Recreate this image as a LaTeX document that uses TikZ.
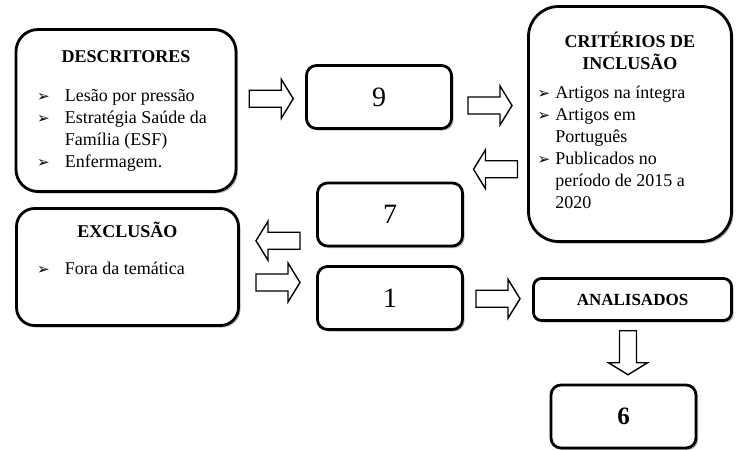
\documentclass[tikz,border=0pt]{standalone}
\usepackage{fontspec}
\setmainfont{Liberation Serif}
\newfontfamily\symfont{DejaVu Sans}
\usepackage{array}
\usetikzlibrary{shadows,calc}
\newcommand{\bul}{{\symfont\fontsize{15}{15}\selectfont ➢}}
\begin{document}
\begin{tikzpicture}[x=1pt,y=-1pt,font=\fontsize{18}{22}\selectfont,
 box/.style={draw,line width=2.8pt,fill=white,inner sep=0pt,
  drop shadow={shadow xshift=2pt,shadow yshift=-2pt,fill=black!45,opacity=.6}},
 numbox/.style={box,rounded corners=10pt,minimum width=145pt,minimum height=63pt,font=\fontsize{28}{28}\selectfont},
 pics/barrow/.style={code={
  \draw[line width=1.4pt,fill=white,line join=miter] (-22,-8.5) -- (10,-8.5) -- (10,-19.5) -- (22,0)
   -- (10,19.5) -- (10,8.5) -- (-22,8.5) -- cycle;}}]
\useasboundingbox (0,0) rectangle (737,450);
\node[box,rounded corners=22pt,minimum width=220pt,minimum height=162pt] (desc) at (126,110.5) {%
\begin{tabular}{@{}l@{\hspace{15pt}}>{\raggedright\arraybackslash}p{150pt}@{}}
\multicolumn{2}{c}{\textbf{DESCRITORES}}\\[17pt]
\bul & Lesão por pressão\\
\bul & Estratégia Saúde da\newline Família (ESF)\\
\bul & Enfermagem.
\end{tabular}};
\node[box,rounded corners=30pt,minimum width=203pt,minimum height=235pt] (crit) at (630,124) {%
\begin{tabular}{@{}l@{\hspace{5pt}}>{\raggedright\arraybackslash}p{167pt}@{}}
\multicolumn{2}{c}{\textbf{CRITÉRIOS DE}}\\
\multicolumn{2}{c}{\textbf{INCLUSÃO}}\\[7pt]
\bul & Artigos na íntegra\\
\bul & Artigos em\newline Português\\
\bul & Publicados no\newline período de 2015 a\newline 2020
\end{tabular}};
\node[box,rounded corners=18pt,minimum width=222pt,minimum height=117pt] (excl) at (127.5,267) {%
\begin{tabular}{@{}l@{\hspace{15pt}}p{153pt}@{}}
\multicolumn{2}{c}{\textbf{EXCLUSÃO}}\\[15pt]
\bul & Fora da temática\\[30pt]
\end{tabular}};
\node[numbox] (n9) at (379,97) {9};
\node[numbox] (n7) at (390,214.5) {7};
\node[numbox] (n1) at (390,298) {1};
\node[box,rounded corners=8pt,minimum width=198pt,minimum height=42pt,font=\bfseries\fontsize{17}{20}\selectfont] (anal) at (632.5,299.5) {ANALISADOS};
\node[numbox,font=\bfseries\fontsize{25}{25}\selectfont] (n6) at (623.5,416.5) {6};
\pic[yshift=5pt] at ($(desc.east)!.5!(n9.west)$ |- n9) {barrow};
\pic[yshift=5pt] at ($(n9.east)!.5!(crit.west)$ |- n9) {barrow};
\pic[rotate=180] at ($(crit.west)!.5!(n7.east)$ |- n7) {barrow};
\pic[rotate=180] at ($(n7.west)!.5!(excl.east)$) {barrow};
\pic at ($(excl.east)!.5!(n1.west)$ |- n1) {barrow};
\pic at ($(n1.east)!.5!(anal.west)$) {barrow};
\pic[rotate=-90] at ($(anal.south)!.5!(n6.north)$) {barrow};
\end{tikzpicture}
\end{document}
